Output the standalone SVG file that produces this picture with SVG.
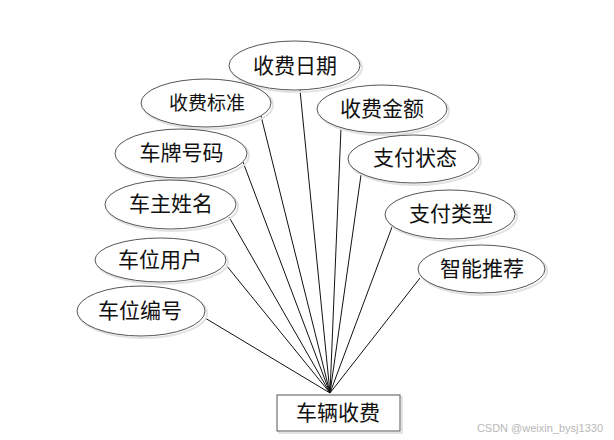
<svg xmlns="http://www.w3.org/2000/svg" width="614" height="440" viewBox="0 0 614 440">
<style>
.sh{fill:none;stroke:#e2e2e2;stroke-width:2}
.el{fill:#fff;stroke:#555;stroke-width:1}
.t{font-family:"Liberation Serif","Noto Sans CJK SC",serif;font-size:21px;fill:#111;text-anchor:middle;dominant-baseline:central}
.ln{stroke:#111;stroke-width:1;fill:none}
</style>
<rect width="614" height="440" fill="#fff"/>
<g id="connectors">
<line class="ln" x1="300" y1="90" x2="330" y2="393"/>
<line class="ln" x1="261" y1="116" x2="330" y2="393"/>
<line class="ln" x1="341" y1="128" x2="330" y2="393"/>
<line class="ln" x1="243" y1="162" x2="330" y2="393"/>
<line class="ln" x1="229" y1="217" x2="330" y2="393"/>
<line class="ln" x1="226" y1="265" x2="330" y2="393"/>
<line class="ln" x1="205" y1="318" x2="330" y2="393"/>
<line class="ln" x1="361" y1="175" x2="330" y2="393"/>
<line class="ln" x1="392" y1="227" x2="330" y2="393"/>
<line class="ln" x1="420" y1="278" x2="330" y2="393"/>
</g>
<g id="n_rqdate"><ellipse class="sh" cx="296.5" cy="67.5" rx="65.5" ry="24.5"/><ellipse class="el" cx="294.5" cy="65.5" rx="65.5" ry="24.5"/><text class="t" x="295" y="66">收费日期</text></g>
<g id="n_std"><ellipse class="sh" cx="208" cy="105" rx="65" ry="24"/><ellipse class="el" cx="206" cy="103" rx="65" ry="24"/><text class="t" x="207" y="103" style="font-size:19px">收费标准</text></g>
<g id="n_amt"><ellipse class="sh" cx="384" cy="111" rx="65" ry="24"/><ellipse class="el" cx="382" cy="109" rx="65" ry="24"/><text class="t" x="382" y="109">收费金额</text></g>
<g id="n_plate"><ellipse class="sh" cx="183" cy="155.5" rx="66" ry="24.5"/><ellipse class="el" cx="181" cy="153.5" rx="66" ry="24.5"/><text class="t" x="181.5" y="153">车牌号码</text></g>
<g id="n_owner"><ellipse class="sh" cx="172.5" cy="206.5" rx="65.5" ry="24.5"/><ellipse class="el" cx="170.5" cy="204.5" rx="65.5" ry="24.5"/><text class="t" x="171" y="204">车主姓名</text></g>
<g id="n_user"><ellipse class="sh" cx="162.5" cy="262" rx="65.5" ry="22"/><ellipse class="el" cx="160.5" cy="260" rx="65.5" ry="22"/><text class="t" x="160" y="260">车位用户</text></g>
<g id="n_no"><ellipse class="sh" cx="143" cy="313" rx="64" ry="25"/><ellipse class="el" cx="141" cy="311" rx="64" ry="25"/><text class="t" x="140" y="311">车位编号</text></g>
<g id="n_paystat"><ellipse class="sh" cx="415.5" cy="161" rx="65.5" ry="24"/><ellipse class="el" cx="413.5" cy="159" rx="65.5" ry="24"/><text class="t" x="415" y="158">支付状态</text></g>
<g id="n_paytype"><ellipse class="sh" cx="452" cy="216.5" rx="65" ry="24.5"/><ellipse class="el" cx="450" cy="214.5" rx="65" ry="24.5"/><text class="t" x="451" y="214">支付类型</text></g>
<g id="n_rec"><ellipse class="sh" cx="483.5" cy="271" rx="63.5" ry="24"/><ellipse class="el" cx="481.5" cy="269" rx="63.5" ry="24"/><text class="t" x="482" y="269">智能推荐</text></g>
<g id="n_main"><rect x="279" y="397" width="123" height="36" fill="none" stroke="#e2e2e2" stroke-width="2"/><rect x="277" y="395" width="123" height="36" fill="#fff" stroke="#555" stroke-width="1"/><text class="t" x="338" y="413">车辆收费</text></g>
<text x="603" y="432" style="font-family:'Liberation Sans',sans-serif;font-size:11px;fill:#b8b8b8;text-anchor:end">CSDN @weixin_bysj1330</text>
</svg>
